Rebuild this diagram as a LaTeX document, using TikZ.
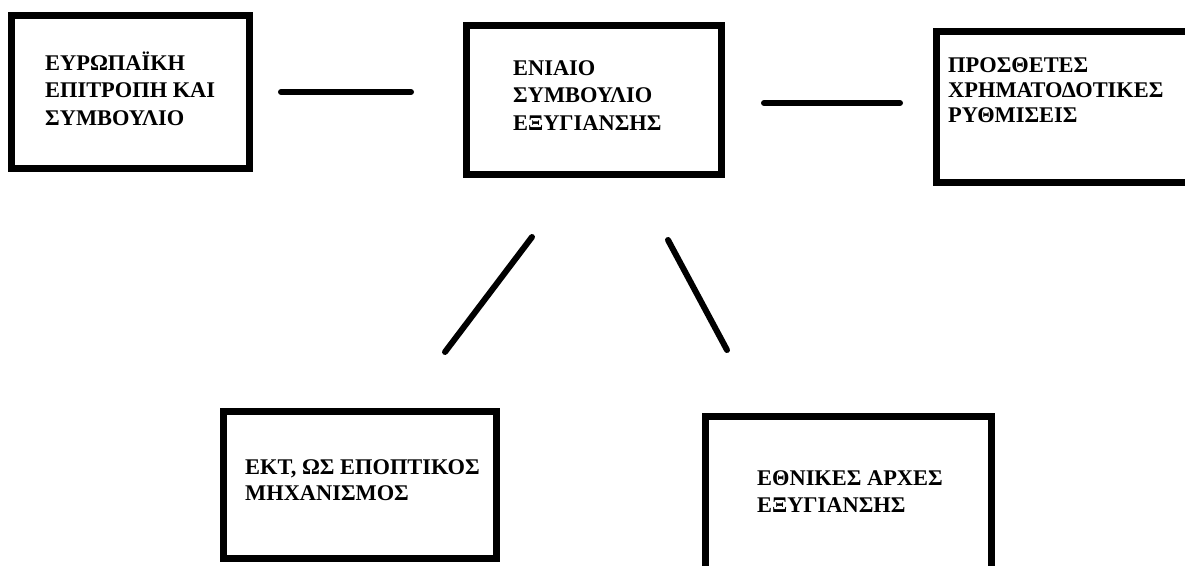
\documentclass[tikz,border=0pt]{standalone}
\usepackage{fontspec}
\setmainfont{Liberation Serif}
\usetikzlibrary{calc}

\begin{document}
\begin{tikzpicture}[x=1pt, y=-1pt,
	box/.style={draw, line width=7pt, inner sep=0pt, outer sep=0pt},
	boxtext/.style={anchor=base west, align=left, inner sep=0pt, font=\bfseries\fontsize{22.4}{27.5}\selectfont},
	link/.style={line width=6pt, line cap=round}]
	\useasboundingbox (0,0) rectangle (1185,565);
	\node[box, minimum width=238pt, minimum height=153pt] (eu) at (130.5,92) {};
	\node[box, minimum width=255pt, minimum height=149pt] (srb) at (594,100) {};
	\node[box, minimum width=260pt, minimum height=151pt] (prf) at (1066.5,107) {};
	\node[box, minimum width=273pt, minimum height=147pt] (ecb) at (360,485) {};
	\node[box, minimum width=286pt, minimum height=160pt] (nra) at (848.5,496.5) {};
	\node[boxtext] (eutxt) at (45,125) {ΕΥΡΩΠΑΪΚΗ\\ΕΠΙΤΡΟΠΗ ΚΑΙ\\ΣΥΜΒΟΥΛΙΟ};
	\node[boxtext] (srbtxt) at (513,130) {ΕΝΙΑΙΟ\\ΣΥΜΒΟΥΛΙΟ\\ΕΞΥΓΙΑΝΣΗΣ};
	\node[boxtext, font=\bfseries\fontsize{22.4}{25}\selectfont] (prftxt) at (948,122) {ΠΡΟΣΘΕΤΕΣ\\ΧΡΗΜΑΤΟΔΟΤΙΚΕΣ\\ΡΥΘΜΙΣΕΙΣ};
	\node[boxtext, font=\bfseries\fontsize{22.4}{25.5}\selectfont] (ecbtxt) at (245,500) {ΕΚΤ, ΩΣ ΕΠΟΠΤΙΚΟΣ\\ΜΗΧΑΝΙΣΜΟΣ};
	\node[boxtext, font=\bfseries\fontsize{22.4}{27}\selectfont] (nratxt) at (757,512) {ΕΘΝΙΚΕΣ ΑΡΧΕΣ\\ΕΞΥΓΙΑΝΣΗΣ};
	\draw[link, shorten <=31.5pt, shorten >=55.5pt] (eu.east) -- (eu.east -| srb.west);
	\draw[link, shorten <=42.5pt, shorten >=36.5pt] ([yshift=-3pt]srb.east) -- ([yshift=-3pt]srb.east -| prf.west);
	\draw[link] ($(srb.south)+(-62,62.5)$) -- ($(ecb.north)+(85,-59.5)$);
	\draw[link] ($(srb.south)+(74,65.5)$) -- ($(nra.north)+(-121.5,-66.5)$);
\end{tikzpicture}
\end{document}
